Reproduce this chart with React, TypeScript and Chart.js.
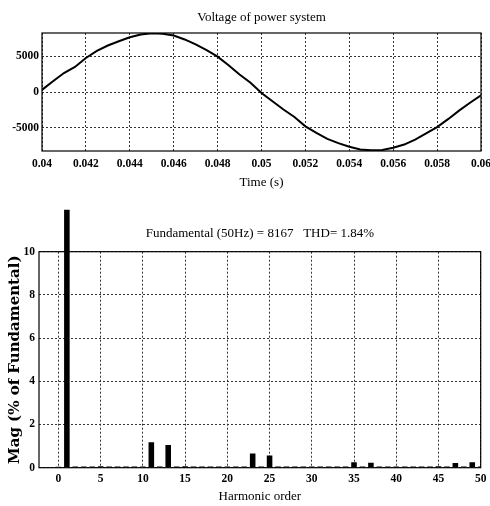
import React, { useEffect, useRef } from 'react';
import { Chart, registerables } from 'chart.js';

Chart.register(...registerables);

// ---------- Top chart: voltage waveform ----------
const timeS = [
  0.04, 0.0405, 0.041, 0.0415, 0.042, 0.0425, 0.043, 0.0435, 0.044, 0.0445,
  0.045, 0.0455, 0.046, 0.0465, 0.047, 0.0475, 0.048, 0.0485, 0.049, 0.0495,
  0.05, 0.0505, 0.051, 0.0515, 0.052, 0.0525, 0.053, 0.0535, 0.054, 0.0545,
  0.055, 0.0555, 0.056, 0.0565, 0.057, 0.0575, 0.058, 0.0585, 0.059, 0.0595,
  0.06,
];
const voltage = [
  300, 1500, 2650, 3500, 4750, 5750, 6500, 7100, 7650, 8050,
  8200, 8150, 7900, 7350, 6650, 5850, 4950, 3750, 2450, 1300,
  -150, -1300, -2450, -3500, -4800, -5700, -6550, -7150, -7650, -8050,
  -8150, -8100, -7800, -7350, -6650, -5800, -4900, -3800, -2600, -1500,
  -450,
];
const timeTicks = [0.04, 0.042, 0.044, 0.046, 0.048, 0.05, 0.052, 0.054, 0.056, 0.058, 0.06];
const timeTickLabels = ['0.04', '0.042', '0.044', '0.046', '0.048', '0.05', '0.052', '0.054', '0.056', '0.058', '0.06'];
const voltageTicks = [-5000, 0, 5000];
const voltageTickLabels = ['-5000', '0', '5000'];
const voltageMin = -8250;
const voltageMax = 8250;

// ---------- Bottom chart: harmonic spectrum ----------
const harmonicOrder = [
  0, 1, 2, 3, 4, 5, 6, 7, 8, 9,
  10, 11, 12, 13, 14, 15, 16, 17, 18, 19,
  20, 21, 22, 23, 24, 25, 26, 27, 28, 29,
  30, 31, 32, 33, 34, 35, 36, 37, 38, 39,
  40, 41, 42, 43, 44, 45, 46, 47, 48, 49,
  50,
];
const magnitudePct = [
  0.04, 100, 0.06, 0.05, 0.06, 0.07, 0.05, 0.06, 0.05, 0.06,
  0.05, 1.18, 0.06, 1.05, 0.06, 0.07, 0.05, 0.06, 0.05, 0.06,
  0.05, 0.06, 0.05, 0.66, 0.06, 0.56, 0.05, 0.06, 0.05, 0.06,
  0.05, 0.06, 0.05, 0.06, 0.05, 0.25, 0.06, 0.23, 0.05, 0.06,
  0.05, 0.06, 0.05, 0.06, 0.05, 0.07, 0.05, 0.22, 0.06, 0.25,
  0.06,
];
const harmonicTicks = [0, 5, 10, 15, 20, 25, 30, 35, 40, 45, 50];
const harmonicTickLabels = ['0', '5', '10', '15', '20', '25', '30', '35', '40', '45', '50'];
const magTicks = [0, 2, 4, 6, 8, 10];
const magTickLabels = ['0', '2', '4', '6', '8', '10'];
const harmonicMin = -2.3;
const harmonicMax = 50;
const magMin = 0;
const magMax = 10;

const topTitle = 'Voltage of power system';
const topXTitle = 'Time (s)';
const bottomTitle = 'Fundamental (50Hz) = 8167   THD= 1.84%';
const bottomXTitle = 'Harmonic order';
const bottomYTitle = 'Mag (% of Fundamental)';

const SERIF = "'Liberation Serif', 'Times New Roman', serif";

const framePlugin = {
  id: 'frameBox',
  afterDatasetsDraw(chart: any) {
    const { ctx, chartArea } = chart;
    const { left, top, right, bottom } = chartArea;
    ctx.save();
    ctx.strokeStyle = '#000';
    ctx.lineWidth = 1.2;
    ctx.setLineDash([]);
    ctx.strokeRect(left, top, right - left, bottom - top);
    ctx.restore();
  },
};

const gridStyle = { color: '#333', lineWidth: 1, drawTicks: false };
const borderStyle = { display: false, dash: [2, 2] };
const tickFont = { family: SERIF, size: 11.5, weight: 'bold' as const };

export default function App() {
  const topRef = useRef<HTMLCanvasElement>(null);
  const botRef = useRef<HTMLCanvasElement>(null);

  useEffect(() => {
    const top = new Chart(topRef.current as HTMLCanvasElement, {
      type: 'line',
      data: {
        datasets: [
          {
            data: timeS.map((t, i) => ({ x: t, y: voltage[i] })),
            borderColor: '#000',
            borderWidth: 2,
            pointRadius: 0,
            tension: 0,
            fill: false,
          },
        ],
      },
      options: {
        animation: false,
        responsive: false,
        devicePixelRatio: 1,
        layout: { padding: { left: 0, right: 9, top: 0, bottom: 0 } },
        plugins: {
          legend: { display: false },
          tooltip: { enabled: false },
          title: {
            display: true,
            text: topTitle,
            color: '#000',
            fullSize: false,
            font: { family: SERIF, size: 13, weight: 'normal' },
            padding: { top: 10, bottom: 7.4 },
          },
        },
        scales: {
          x: {
            type: 'linear',
            min: 0.04,
            max: 0.06,
            grid: gridStyle,
            border: borderStyle,
            afterBuildTicks: (s: any) => {
              s.ticks = timeTicks.map((v) => ({ value: v }));
            },
            afterFit: (s: any) => {
              s.height = 49;
              s.paddingLeft = 0;
              s.paddingRight = 0;
            },
            ticks: {
              color: '#000',
              font: tickFont,
              padding: 6,
              maxRotation: 0,
              autoSkip: false,
              callback: (_v: any, i: number) => timeTickLabels[i],
            },
            title: {
              display: true,
              text: topXTitle,
              color: '#000',
              font: { family: SERIF, size: 13 },
              padding: { top: 0, bottom: 10 },
            },
          },
          y: {
            type: 'linear',
            min: voltageMin,
            max: voltageMax,
            grid: gridStyle,
            border: borderStyle,
            afterBuildTicks: (s: any) => {
              s.ticks = voltageTicks.map((v) => ({ value: v }));
            },
            afterFit: (s: any) => {
              s.width = 42;
              s.paddingTop = 0;
              s.paddingBottom = 0;
            },
            ticks: {
              color: '#000',
              font: tickFont,
              padding: 3,
              callback: (_v: any, i: number) => voltageTickLabels[i],
            },
          },
        },
      } as any,
      plugins: [framePlugin],
    });

    const bot = new Chart(botRef.current as HTMLCanvasElement, {
      type: 'bar',
      data: {
        datasets: [
          {
            data: harmonicOrder.map((h, i) => ({ x: h, y: magnitudePct[i] })),
            backgroundColor: '#000',
            borderWidth: 0,
            barPercentage: 0.66,
            categoryPercentage: 1,
            clip: { left: 0, top: 42, right: 0, bottom: 0 },
          } as any,
        ],
      },
      options: {
        animation: false,
        responsive: false,
        devicePixelRatio: 1,
        layout: { padding: { left: 0, right: 9.3, top: 0, bottom: 0 } },
        plugins: {
          legend: { display: false },
          tooltip: { enabled: false },
          title: {
            display: true,
            text: bottomTitle,
            color: '#000',
            fullSize: false,
            font: { family: SERIF, size: 13, weight: 'normal' },
            padding: { top: 26.2, bottom: 9.9 },
          },
        },
        scales: {
          x: {
            type: 'linear',
            min: harmonicMin,
            max: harmonicMax,
            offset: false,
            grid: { ...gridStyle, offset: false },
            border: borderStyle,
            afterBuildTicks: (s: any) => {
              s.ticks = harmonicTicks.map((v) => ({ value: v }));
            },
            afterFit: (s: any) => {
              s.height = 38.3;
              s.paddingLeft = 0;
              s.paddingRight = 0;
            },
            ticks: {
              color: '#000',
              font: tickFont,
              padding: 4.5,
              maxRotation: 0,
              autoSkip: false,
              callback: (_v: any, i: number) => harmonicTickLabels[i],
            },
            title: {
              display: true,
              text: bottomXTitle,
              color: '#000',
              font: { family: SERIF, size: 13 },
              padding: { top: 0, bottom: 1.5 },
            },
          },
          y: {
            type: 'linear',
            min: magMin,
            max: magMax,
            grid: gridStyle,
            border: borderStyle,
            afterBuildTicks: (s: any) => {
              s.ticks = magTicks.map((v) => ({ value: v }));
            },
            afterFit: (s: any) => {
              s.width = 39;
              s.paddingTop = 0;
              s.paddingBottom = 0;
            },
            ticks: {
              color: '#000',
              font: tickFont,
              padding: 4,
              callback: (_v: any, i: number) => magTickLabels[i],
            },
            title: {
              display: true,
              text: bottomYTitle,
              color: '#000',
              font: { family: "'DejaVu Serif', serif", size: 15, weight: 'bold' },
              padding: { top: 6, bottom: 0 },
            },
          },
        },
      } as any,
      plugins: [framePlugin],
    });

    return () => {
      top.destroy();
      bot.destroy();
    };
  }, []);

  return (
    <div style={{ position: 'absolute', left: 0, top: 0, width: 490, height: 506, background: '#fff' }}>
      <canvas
        ref={topRef}
        width={490}
        height={200}
        style={{ position: 'absolute', left: 0, top: 0, width: 490, height: 200, display: 'block' }}
      />
      <canvas
        ref={botRef}
        width={490}
        height={306}
        style={{ position: 'absolute', left: 0, top: 200, width: 490, height: 306, display: 'block' }}
      />
    </div>
  );
}
